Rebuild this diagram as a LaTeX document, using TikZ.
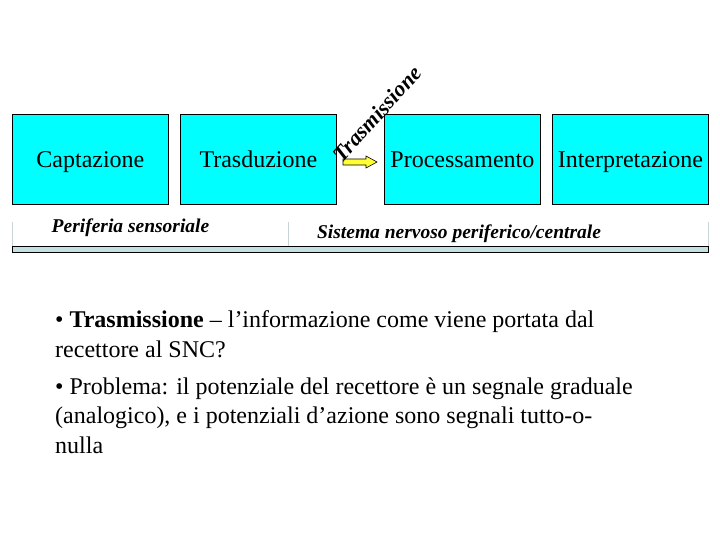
\documentclass[tikz,border=0pt]{standalone}
\usepackage{fontspec}
\setmainfont{Liberation Serif}
\definecolor{boxcyan}{HTML}{00FFFF}
\definecolor{barfill}{HTML}{C4E0E2}
\definecolor{sepgray}{HTML}{C8D4D8}
\definecolor{arrowyellow}{HTML}{FFFF33}
\begin{document}
\begin{tikzpicture}[x=1pt,y=-1pt,
  stagebox/.style={draw=black, line width=0.8pt, fill=boxcyan, minimum width=156pt, minimum height=90pt, inner sep=0pt, text height=16pt, text depth=0pt, anchor=north west, font=\fontsize{24}{28}\selectfont},
  barlabel/.style={font=\fontsize{19.5}{23}\selectfont\bfseries\itshape, anchor=base, inner sep=0pt},
  bodyline/.style={font=\fontsize{24}{29}\selectfont, anchor=base west, inner sep=0pt}]
\useasboundingbox (0,0) rectangle (720,540);
\node[stagebox] (capt) at (12,114) {Captazione};
\node[stagebox] (trasd) at (180,114) {Trasduzione};
\node[stagebox] (proc) at (384,114) {Processamento};
\node[stagebox] (interp) at (552,114) {Interpretazione};
% yellow block arrow
\draw[fill=arrowyellow, line width=0.6pt] (343,159) -- (366,159) -- (366,156) -- (377,162) -- (366,168) -- (366,165) -- (343,165) -- cycle;
\node[font=\fontsize{22}{26}\selectfont\bfseries\itshape, rotate=48, inner sep=0pt] (trasm) at (377,114) {Trasmissione};
% bar
\draw[sepgray, line width=0.6pt] (12,222) -- (12,246);
\draw[sepgray, line width=0.6pt] (288,222) -- (288,248);
\draw[sepgray, line width=0.6pt] (708,222) -- (708,246);
\draw[fill=barfill, draw=black, line width=0.7pt] (12,246) rectangle (708,252);
\node[barlabel] (perif) at (130.5,233) {Periferia sensoriale};
\node[barlabel] (sist) at (459,238) {Sistema nervoso periferico/centrale};
% text
\node[bodyline] (p1a) at (55,327) {• \textbf{Trasmissione} – l’informazione come viene portata dal};
\node[bodyline] (p1b) at (55,357) {recettore al SNC?};
\node[bodyline] (p2a) at (55,394) {• Problema: il potenziale del recettore è un segnale graduale};
\node[bodyline] (p2b) at (55,423.5) {(analogico), e i potenziali d’azione sono segnali tutto-o-};
\node[bodyline] (p2c) at (55,453) {nulla};
\end{tikzpicture}
\end{document}
